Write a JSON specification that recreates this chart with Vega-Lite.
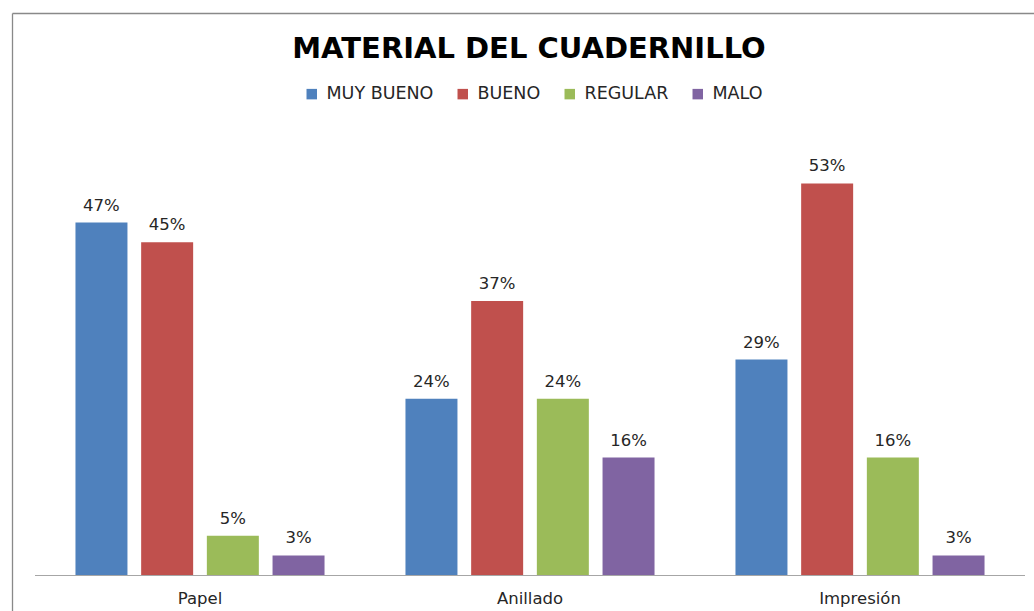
{
  "$schema": "https://vega.github.io/schema/vega-lite/v6.json",
  "autosize": "none",
  "width": 1022,
  "height": 598,
  "padding": {"left": 12, "top": 13, "right": 0, "bottom": 0},
  "background": "white",
  "title": {
    "text": "MATERIAL DEL CUADERNILLO",
    "font": "DejaVu Sans",
    "fontSize": 29,
    "fontWeight": "bold",
    "color": "#000000",
    "anchor": "middle",
    "frame": "group",
    "baseline": "alphabetic",
    "offset": 0,
    "dy": 74,
    "dx": 6
  },
  "config": {
    "view": {"stroke": null},
    "font": "DejaVu Sans"
  },
  "resolve": {"axis": {"x": "independent"}},
  "data": {
    "values": [
      {"cat": "Papel", "nivel": "MUY BUENO", "val": 0.4737},
      {"cat": "Papel", "nivel": "BUENO", "val": 0.4474},
      {"cat": "Papel", "nivel": "REGULAR", "val": 0.0526},
      {"cat": "Papel", "nivel": "MALO", "val": 0.0263},
      {"cat": "Anillado", "nivel": "MUY BUENO", "val": 0.2368},
      {"cat": "Anillado", "nivel": "BUENO", "val": 0.3684},
      {"cat": "Anillado", "nivel": "REGULAR", "val": 0.2368},
      {"cat": "Anillado", "nivel": "MALO", "val": 0.1579},
      {"cat": "Impresión", "nivel": "MUY BUENO", "val": 0.2895},
      {"cat": "Impresión", "nivel": "BUENO", "val": 0.5263},
      {"cat": "Impresión", "nivel": "REGULAR", "val": 0.1579},
      {"cat": "Impresión", "nivel": "MALO", "val": 0.0263}
    ]
  },
  "layer": [
    {
      "mark": {"type": "bar", "color": "#A6A6A6"},
      "encoding": {
        "x": {
          "field": "cat",
          "type": "nominal",
          "sort": ["Papel", "Anillado", "Impresión"],
          "scale": {"paddingInner": 0, "paddingOuter": 0.048485, "align": 0.71875},
          "axis": {
            "title": null,
            "orient": "bottom",
            "offset": -36,
            "domain": false,
            "ticks": false,
            "grid": false,
            "labelAngle": 0,
            "labelFont": "DejaVu Sans",
            "labelFontSize": 16.5,
            "labelColor": "#262626",
            "labelPadding": 15
          }
        },
        "y": {
          "datum": 0,
          "type": "quantitative",
          "scale": {"domain": [-0.048387, 0.755376], "nice": false},
          "axis": {
            "title": null,
            "orient": "left",
            "domain": true,
            "domainColor": "#898989",
            "domainWidth": 1.3,
            "ticks": false,
            "labels": false,
            "grid": false
          }
        },
        "y2": {"datum": -0.00134}
      }
    },
    {
      "mark": {"type": "bar"},
      "encoding": {
        "x": {
          "field": "cat",
          "type": "nominal",
          "sort": ["Papel", "Anillado", "Impresión"],
          "axis": {
            "title": null,
            "orient": "top",
            "domain": true,
            "domainColor": "#898989",
            "domainWidth": 1.3,
            "ticks": false,
            "labels": false,
            "grid": false
          }
        },
        "xOffset": {
          "field": "nivel",
          "type": "nominal",
          "sort": ["MUY BUENO", "BUENO", "REGULAR", "MALO"],
          "scale": {"paddingInner": 0.2085, "paddingOuter": 0.616}
        },
        "y": {"field": "val", "type": "quantitative"},
        "color": {
          "field": "nivel",
          "type": "nominal",
          "sort": ["MUY BUENO", "BUENO", "REGULAR", "MALO"],
          "scale": {
            "domain": ["MUY BUENO", "BUENO", "REGULAR", "MALO"],
            "range": ["#4F81BD", "#C0504D", "#9BBB59", "#8064A2"]
          },
          "legend": {
            "title": null,
            "orient": "none",
            "direction": "horizontal",
            "legendX": 291,
            "legendY": 72,
            "symbolType": "square",
            "symbolSize": 110,
            "symbolStrokeWidth": 0,
            "labelFont": "DejaVu Sans",
            "labelFontSize": 17.5,
            "labelColor": "#262626",
            "labelOffset": 6,
            "columnPadding": 20
          }
        }
      }
    },
    {
      "mark": {"type": "text", "baseline": "alphabetic", "dy": -12, "font": "DejaVu Sans", "fontSize": 16.5, "color": "#262626"},
      "encoding": {
        "x": {"field": "cat", "type": "nominal", "sort": ["Papel", "Anillado", "Impresión"], "axis": null},
        "xOffset": {
          "field": "nivel",
          "type": "nominal",
          "sort": ["MUY BUENO", "BUENO", "REGULAR", "MALO"]
        },
        "y": {"field": "val", "type": "quantitative"},
        "text": {"field": "val", "type": "quantitative", "format": ".0%"}
      }
    }
  ]
}
